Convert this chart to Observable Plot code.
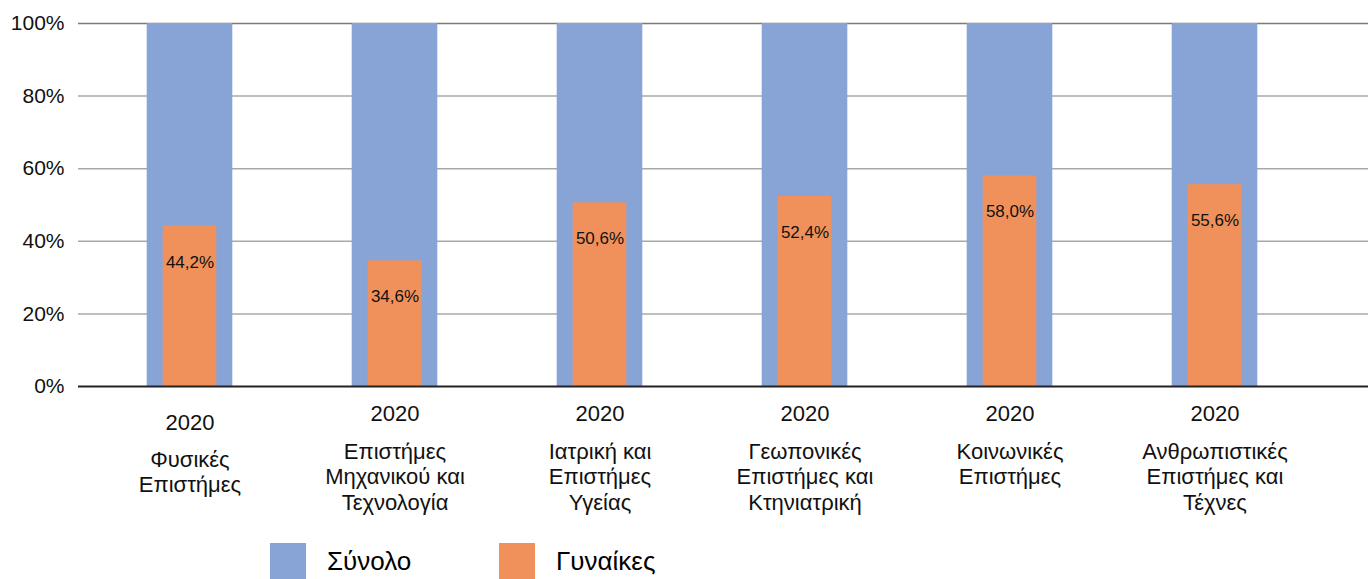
<!DOCTYPE html>
<html>
<head>
<meta charset="utf-8">
<script src="https://cdn.jsdelivr.net/npm/d3@7"></script>
<script src="https://cdn.jsdelivr.net/npm/@observablehq/plot@0.6"></script>
<style>
  html, body { margin: 0; padding: 0; background: #fff; }
  #wrap { position: relative; width: 1368px; height: 579px; overflow: hidden; font-family: "Liberation Sans", Arial, sans-serif; }
  #chart { position: absolute; left: 0; top: 0; }
  .legend { position: absolute; top: 543px; left: 0; width: 1368px; height: 36px; }
  .item { position: absolute; top: 0; display: flex; align-items: center; height: 36px; }
  .sw { width: 36px; height: 36px; margin-right: 21px; }
  .lab { font-size: 26px; color: #000; }
</style>
</head>
<body>
<div id="wrap">
  <div id="chart"></div>
  <div class="legend" id="legend"></div>
</div>
<script>
const categories = [
  "Φυσικές\nΕπιστήμες",
  "Επιστήμες\nΜηχανικού και\nΤεχνολογία",
  "Ιατρική και\nΕπιστήμες\nΥγείας",
  "Γεωπονικές\nΕπιστήμες και\nΚτηνιατρική",
  "Κοινωνικές\nΕπιστήμες",
  "Ανθρωπιστικές\nΕπιστήμες και\nΤέχνες"
];
const year = "2020";
const totalValues = [100, 100, 100, 100, 100, 100];
const womenValues = [44.2, 34.6, 50.6, 52.4, 58.0, 55.6];
const yTicks = [0, 20, 40, 60, 80, 100];
const seriesNames = ["Σύνολο", "Γυναίκες"];
const seriesColors = ["#88A4D6", "#F0915C"];

const data = categories.map((c, i) => ({cat: c, idx: i, total: totalValues[i], women: womenValues[i]}));

const W = 1368, H = 530;
const mL = 78, mT = 23, mB = H - 386;
const bandStart = 85.3, bandEnd = 1317.7;
const step = (bandEnd - bandStart) / categories.length;
const insetBlue = (step - 86) / 2;
const insetOrange = (step - 54) / 2;
const fmt = v => v.toFixed(1).replace(".", ",") + "%";

const plot = Plot.plot({
  width: W,
  height: H,
  marginLeft: mL,
  marginRight: 0,
  marginTop: mT,
  marginBottom: mB,
  style: {fontFamily: "'Liberation Sans', Arial, sans-serif", color: "#111", background: "#fff"},
  x: {type: "band", domain: categories, range: [bandStart, bandEnd], padding: 0, axis: null},
  y: {domain: [0, 100], range: [386, mT], axis: null},
  marks: [
    Plot.ruleY(yTicks.filter(t => t > 0), {y: d => d, stroke: d => d === 100 ? "#7a7a7a" : "#a8a8a8", strokeWidth: 1.5}),
    Plot.barY(data, {x: "cat", y: "total", fill: seriesColors[0], insetLeft: insetBlue, insetRight: insetBlue}),
    Plot.barY(data, {x: "cat", y: "women", fill: seriesColors[1], insetLeft: insetOrange, insetRight: insetOrange}),
    Plot.ruleY([0], {stroke: "#222", strokeWidth: 2}),
    Plot.axisY({ticks: yTicks, tickFormat: d => d + "%", tickSize: 0, tickPadding: 14, fontSize: 21, label: null, anchor: "left"}),
    Plot.text(data, {x: "cat", y: "women", text: d => fmt(d.women), dy: 36, fontSize: 17, fill: "#111"}),
    // year labels
    Plot.text(data.filter(d => d.idx !== 0), {x: "cat", frameAnchor: "bottom", text: () => year, dy: 27, lineAnchor: "middle", fontSize: 22, fill: "#111"}),
    Plot.text(data.filter(d => d.idx === 0), {x: "cat", frameAnchor: "bottom", text: () => year, dy: 36, lineAnchor: "middle", fontSize: 22, fill: "#111"}),
    // category labels
    Plot.text(data.filter(d => d.idx !== 0), {x: "cat", frameAnchor: "bottom", text: "cat", dy: 54, lineAnchor: "top", lineHeight: 1.16, fontSize: 22, fill: "#111"}),
    Plot.text(data.filter(d => d.idx === 0), {x: "cat", frameAnchor: "bottom", text: "cat", dy: 62, lineAnchor: "top", lineHeight: 1.16, fontSize: 22, fill: "#111"})
  ]
});
document.getElementById("chart").appendChild(plot);

const legend = document.getElementById("legend");
const legendLefts = [270, 499];
seriesNames.forEach((name, i) => {
  const it = document.createElement("div");
  it.className = "item";
  it.style.left = legendLefts[i] + "px";
  it.innerHTML = `<div class="sw" style="background:${seriesColors[i]}"></div><span class="lab">${name}</span>`;
  legend.appendChild(it);
});
</script>
</body>
</html>
